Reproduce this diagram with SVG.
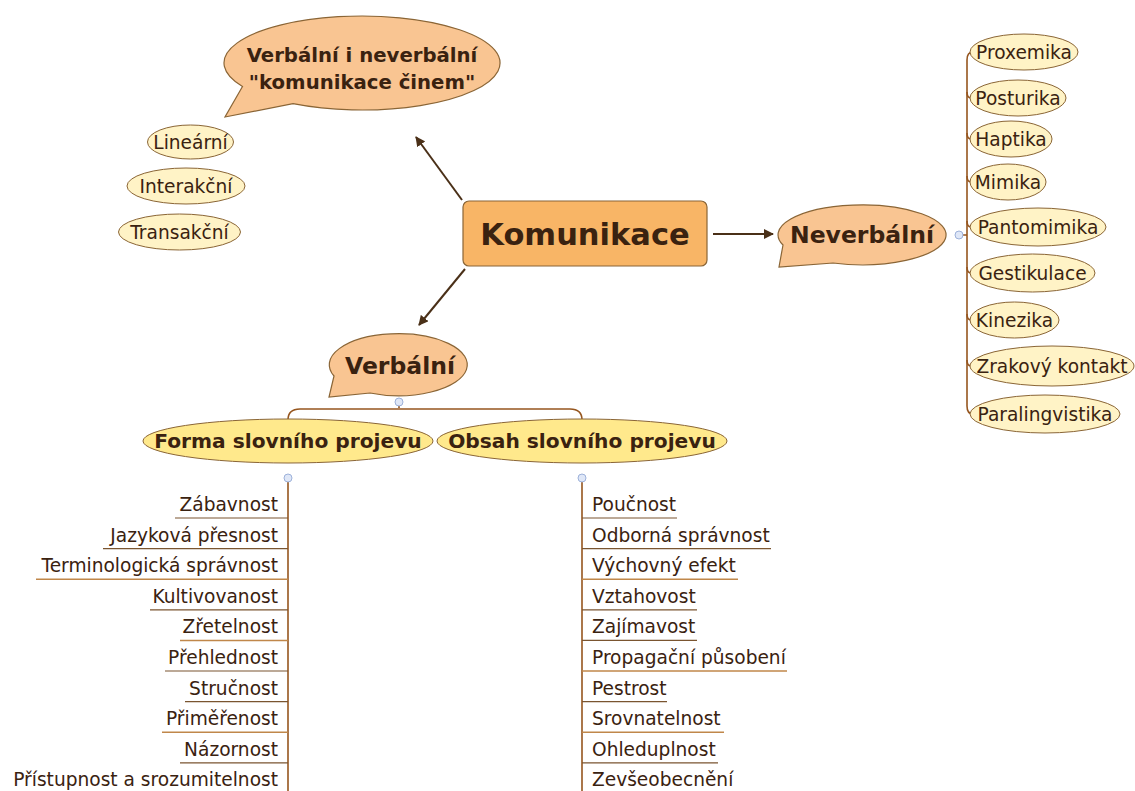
<svg xmlns="http://www.w3.org/2000/svg" width="1135" height="791" viewBox="0 0 1135 791">
<style>
text{font-family:"DejaVu Sans","Liberation Sans",sans-serif;fill:#3a2210}
.b{font-weight:bold}
.callout{fill:#f9c592;stroke:#8a6536;stroke-width:1.2}
.root{fill:#f8b566;stroke:#8a6536;stroke-width:1.2}
.leaf{fill:#fff3c6;stroke:#8a6536;stroke-width:1}
.sub{fill:#ffe98c;stroke:#8a6536;stroke-width:1}
.it{font-size:18.6px}
.ul{stroke:#7a5530;stroke-width:1.2}
.ula{stroke:#c0874a;stroke-width:1.5}
.spine{fill:none;stroke:#96561f;stroke-width:1.6}
.arr{stroke:#4a3018;stroke-width:2;fill:none;marker-end:url(#ah)}
.dot{fill:#dfe7f7;stroke:#9db1da;stroke-width:1}
.m{text-anchor:middle}
.e{text-anchor:end}
</style>
<defs>
<marker id="ah" viewBox="0 0 10 10" refX="9" refY="5" markerWidth="5" markerHeight="5" orient="auto" markerUnits="strokeWidth">
<path d="M0,0 L10,5 L0,10 z" fill="#4a3018"/>
</marker>
</defs>
<rect width="1135" height="791" fill="#ffffff"/>

<g id="connectors">
<line class="arr" x1="462" y1="200" x2="416" y2="137"/>
<line class="arr" x1="465" y1="269" x2="419" y2="325"/>
<line class="arr" x1="713" y1="234" x2="773" y2="234"/>
<path class="spine" d="M959,235 H967 M973,52 Q967,52 967,60 V406 Q967,414 973,414"/>
<path class="spine" d="M967,92 Q967,98 971,98 M967,133 Q967,139 971,139 M967,176 Q967,182 971,182 M967,221 Q967,227 971,227 M967,267 Q967,273 971,273 M967,314 Q967,320 971,320 M967,360 Q967,366 971,366"/>
<path class="spine" d="M399,402 V408 M288,420 Q288,409 300,409 H570 Q582,409 582,420"/>
<path class="spine" d="M288,482 V791 M582,482 V791"/>
<circle class="dot" cx="959" cy="235" r="4"/>
<circle class="dot" cx="399" cy="402" r="4"/>
<circle class="dot" cx="288" cy="478" r="4"/>
<circle class="dot" cx="582" cy="478" r="4"/>
</g>

<g id="node-verbalni-neverbalni">
<path class="callout" d="M242.5,86.5 L225,117 L293,103.7 A138 47 0 1 0 242.5,86.5 Z"/>
<text class="b m" x="362" y="62" font-size="19.7">Verbální i neverbální</text>
<text class="b m" x="362" y="89" font-size="19.7">"komunikace činem"</text>
</g>

<g id="node-komunikace">
<rect class="root" x="463" y="201" width="244" height="65" rx="6"/>
<text class="b m" x="585" y="245" font-size="30.5">Komunikace</text>
</g>

<g id="node-neverbalni">
<path class="callout" d="M783,245 L779,267 L833,263 A84 30 0 1 0 783,245 Z"/>
<text class="b m" x="862" y="243" font-size="23.5">Neverbální</text>
</g>

<g id="node-verbalni">
<path class="callout" d="M334,376 L329,397 L370,393 A69 31 0 1 0 334,376 Z"/>
<text class="b m" x="400" y="374" font-size="23.5">Verbální</text>
</g>

<g id="node-linearni"><ellipse class="leaf" cx="190.5" cy="142" rx="43" ry="17"/><text class="it m" x="190.5" y="148.5">Lineární</text></g>
<g id="node-interakcni"><ellipse class="leaf" cx="186" cy="186" rx="59" ry="18"/><text class="it m" x="186" y="192.5">Interakční</text></g>
<g id="node-transakcni"><ellipse class="leaf" cx="179.5" cy="232" rx="61" ry="18"/><text class="it m" x="179.5" y="238.5">Transakční</text></g>

<g id="node-proxemika"><ellipse class="leaf" cx="1024" cy="52" rx="54" ry="18"/><text class="it m" x="1024" y="58.5">Proxemika</text></g>
<g id="node-posturika"><ellipse class="leaf" cx="1018" cy="98" rx="48" ry="18"/><text class="it m" x="1018" y="104.5">Posturika</text></g>
<g id="node-haptika"><ellipse class="leaf" cx="1011" cy="139" rx="41" ry="18"/><text class="it m" x="1011" y="145.5">Haptika</text></g>
<g id="node-mimika"><ellipse class="leaf" cx="1008" cy="182" rx="38" ry="18"/><text class="it m" x="1008" y="188.5">Mimika</text></g>
<g id="node-pantomimika"><ellipse class="leaf" cx="1038" cy="227" rx="68" ry="19"/><text class="it m" x="1038" y="233.5">Pantomimika</text></g>
<g id="node-gestikulace"><ellipse class="leaf" cx="1032.5" cy="273" rx="62.5" ry="19"/><text class="it m" x="1032.5" y="279.5">Gestikulace</text></g>
<g id="node-kinezika"><ellipse class="leaf" cx="1014.5" cy="320" rx="44.5" ry="18"/><text class="it m" x="1014.5" y="326.5">Kinezika</text></g>
<g id="node-zrakovy-kontakt"><ellipse class="leaf" cx="1052" cy="366" rx="82" ry="20"/><text class="it m" x="1052" y="372.5">Zrakový kontakt</text></g>
<g id="node-paralingvistika"><ellipse class="leaf" cx="1045" cy="414" rx="75" ry="19"/><text class="it m" x="1045" y="420.5">Paralingvistika</text></g>

<g id="node-forma">
<ellipse class="sub" cx="288" cy="441" rx="145" ry="22"/>
<text class="b m" x="288" y="448" font-size="20.2">Forma slovního projevu</text>
</g>
<g id="node-obsah">
<ellipse class="sub" cx="582" cy="441" rx="145" ry="22"/>
<text class="b m" x="582" y="448" font-size="20.2">Obsah slovního projevu</text>
</g>

<g id="list-forma">
<g id="item-zabavnost"><text class="it e" x="278" y="511">Zábavnost</text><line class="ul" x1="175" y1="518" x2="288" y2="518"/></g>
<g id="item-jazykova"><text class="it e" x="278" y="541.6">Jazyková přesnost</text><line class="ul" x1="103" y1="548.6" x2="288" y2="548.6"/></g>
<g id="item-terminologicka"><text class="it e" x="278" y="572.2">Terminologická správnost</text><line class="ula" x1="36" y1="579.2" x2="288" y2="579.2"/></g>
<g id="item-kultivovanost"><text class="it e" x="278" y="602.8">Kultivovanost</text><line class="ul" x1="150" y1="609.8" x2="288" y2="609.8"/></g>
<g id="item-zretelnost"><text class="it e" x="278" y="633.4">Zřetelnost</text><line class="ula" x1="180" y1="640.4" x2="288" y2="640.4"/></g>
<g id="item-prehlednost"><text class="it e" x="278" y="664">Přehlednost</text><line class="ul" x1="165" y1="671" x2="288" y2="671"/></g>
<g id="item-strucnost"><text class="it e" x="278" y="694.6">Stručnost</text><line class="ul" x1="185" y1="701.6" x2="288" y2="701.6"/></g>
<g id="item-primerenost"><text class="it e" x="278" y="725.2">Přiměřenost</text><line class="ula" x1="162" y1="732.2" x2="288" y2="732.2"/></g>
<g id="item-nazornost"><text class="it e" x="278" y="755.8">Názornost</text><line class="ul" x1="180" y1="762.8" x2="288" y2="762.8"/></g>
<g id="item-pristupnost"><text class="it e" x="278" y="786.4">Přístupnost a srozumitelnost</text></g>
</g>

<g id="list-obsah">
<g id="item-poucnost"><text class="it" x="592" y="511">Poučnost</text><line class="ul" x1="582" y1="518" x2="677" y2="518"/></g>
<g id="item-odborna"><text class="it" x="592" y="541.6">Odborná správnost</text><line class="ul" x1="582" y1="548.6" x2="771" y2="548.6"/></g>
<g id="item-vychovny"><text class="it" x="592" y="572.2">Výchovný efekt</text><line class="ula" x1="582" y1="579.2" x2="738" y2="579.2"/></g>
<g id="item-vztahovost"><text class="it" x="592" y="602.8">Vztahovost</text><line class="ul" x1="582" y1="609.8" x2="697" y2="609.8"/></g>
<g id="item-zajimavost"><text class="it" x="592" y="633.4">Zajímavost</text><line class="ul" x1="582" y1="640.4" x2="697" y2="640.4"/></g>
<g id="item-propagacni"><text class="it" x="592" y="664">Propagační působení</text><line class="ula" x1="582" y1="671" x2="787" y2="671"/></g>
<g id="item-pestrost"><text class="it" x="592" y="694.6">Pestrost</text><line class="ul" x1="582" y1="701.6" x2="667" y2="701.6"/></g>
<g id="item-srovnatelnost"><text class="it" x="592" y="725.2">Srovnatelnost</text><line class="ula" x1="582" y1="732.2" x2="724" y2="732.2"/></g>
<g id="item-ohleduplnost"><text class="it" x="592" y="755.8">Ohleduplnost</text><line class="ul" x1="582" y1="762.8" x2="718" y2="762.8"/></g>
<g id="item-zevseobecneni"><text class="it" x="592" y="786.4">Zevšeobecnění</text></g>
</g>
</svg>
